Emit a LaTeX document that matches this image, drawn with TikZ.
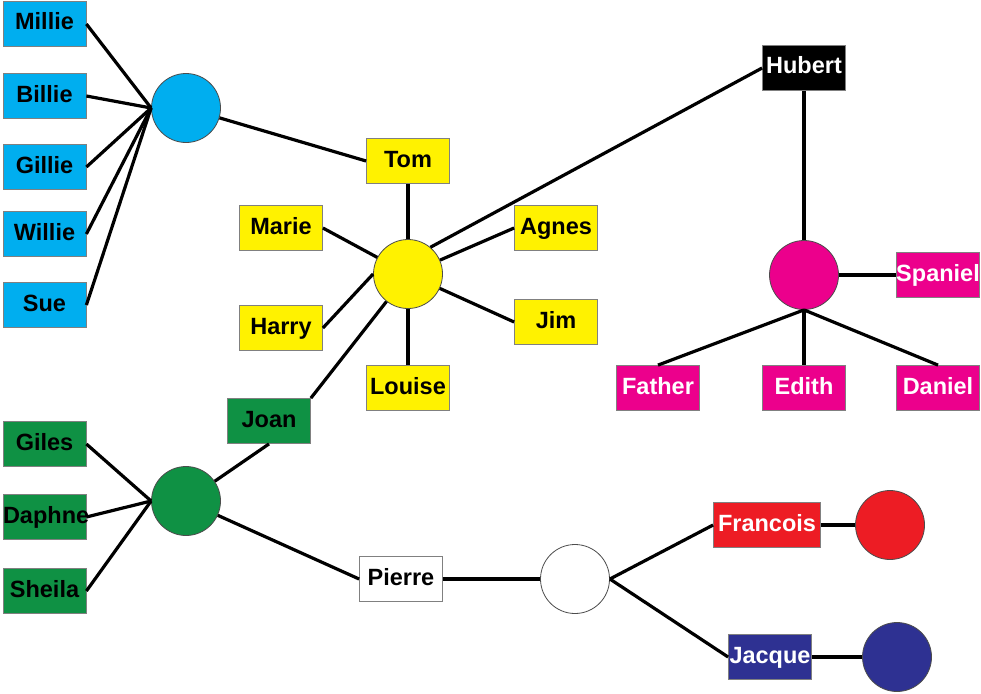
\documentclass[tikz,border=0pt]{standalone}
\usepackage{fontspec}
\setmainfont{Liberation Sans}
\definecolor{cyanb}{HTML}{00AEEF}
\definecolor{yellowb}{HTML}{FFF200}
\definecolor{greenb}{HTML}{0F9144}
\definecolor{pinkb}{HTML}{EC008C}
\definecolor{redb}{HTML}{ED1C24}
\definecolor{navyb}{HTML}{2E3192}
\tikzset{
  box/.style={draw=gray, line width=0.8pt, minimum width=83pt, minimum height=45pt,
    inner xsep=0pt, text height=17pt, text depth=5pt,
    font=\fontsize{23.5}{28}\selectfont\bfseries},
  dot/.style={circle, draw=black!70, line width=0.8pt, minimum size=69pt, inner sep=0pt},
  link/.style={line width=3.2pt},
}

\begin{document}
\begin{tikzpicture}[x=1pt,y=-1pt]
    \useasboundingbox (0,0) rectangle (981,693);
    % blue group
    \node[dot, fill=cyanb] (bc) at (186,108) {};
    \foreach \who/\y in {Millie/24, Billie/96, Gillie/167, Willie/234, Sue/305}
        \node[box, fill=cyanb] (\who) at (44.5,\y) {\who};
    % yellow group
    \node[dot, fill=yellowb] (yc) at (408,274) {};
    \node[box, fill=yellowb] (Tom) at (408,161) {Tom};
    \node[box, fill=yellowb] (Marie) at (281,228) {Marie};
    \node[box, fill=yellowb] (Harry) at (281,328) {Harry};
    \node[box, fill=yellowb] (Agnes) at (556,228) {Agnes};
    \node[box, fill=yellowb] (Jim) at (556,322) {Jim};
    \node[box, fill=yellowb] (Louise) at (408,388) {Louise};
    % green group
    \node[dot, fill=greenb] (gc) at (186,501) {};
    \node[box, fill=greenb] (Joan) at (269,421) {Joan};
    \node[box, fill=greenb] (Giles) at (44.5,444) {Giles};
    \node[box, fill=greenb, text width=83pt, align=center] (Daphne) at (44.5,517) {Daphne};
    \node[box, fill=greenb] (Sheila) at (44.5,591) {Sheila};
    % white, red, navy
    \node[box, fill=white] (Pierre) at (401,579) {Pierre};
    \node[dot, fill=white] (wc) at (575,579) {};
    \node[box, fill=redb, text=white, minimum width=107pt] (Francois) at (767,525) {Francois};
    \node[dot, fill=redb] (rc) at (890,525) {};
    \node[box, fill=navyb, text=white] (Jacque) at (770,657) {Jacque};
    \node[dot, fill=navyb] (nc) at (897,657) {};
    % pink group
    \node[box, fill=black, text=white] (Hubert) at (804,68) {Hubert};
    \node[dot, fill=pinkb] (pc) at (804,275) {};
    \node[box, fill=pinkb, text=white] (Spaniel) at (938,275) {Spaniel};
    \node[box, fill=pinkb, text=white] (Father) at (658,388) {Father};
    \node[box, fill=pinkb, text=white] (Edith) at (804,388) {Edith};
    \node[box, fill=pinkb, text=white] (Daniel) at (938,388) {Daniel};
    % links
    \foreach \who in {Millie, Billie, Gillie, Willie, Sue}
        \draw[link] (\who.east) -- (bc.west);
    \draw[link] (bc) -- (Tom.west);
    \draw[link] (Tom.south) -- (yc);
    \draw[link] (Marie.east) -- (yc);
    \draw[link] (Harry.east) -- (yc.west);
    \draw[link] (Joan.north east) -- (yc);
    \draw[link] (yc.50) -- (Hubert.west);
    \draw[link] (yc) -- (Agnes.west);
    \draw[link] (yc) -- (Jim.west);
    \draw[link] (Louise) -- (yc);
    \foreach \who in {Giles, Daphne, Sheila}
        \draw[link] (\who.east) -- (gc.west);
    \draw[link] (gc) -- (Joan.south);
    \draw[link] (gc) -- (Pierre.west);
    \draw[link] (Pierre.east) -- (wc.west);
    \draw[link] (wc.east) -- (Francois.west);
    \draw[link] (wc.east) -- (Jacque.west);
    \draw[link] (Francois.east) -- (rc.west);
    \draw[link] (Jacque.east) -- (nc.west);
    \draw[link] (Hubert.south) -- (pc.north);
    \draw[link] (pc.east) -- (Spaniel.west);
    \foreach \who in {Father, Edith, Daniel}
        \draw[link] (pc.south) -- (\who.north);
\end{tikzpicture}
\end{document}
